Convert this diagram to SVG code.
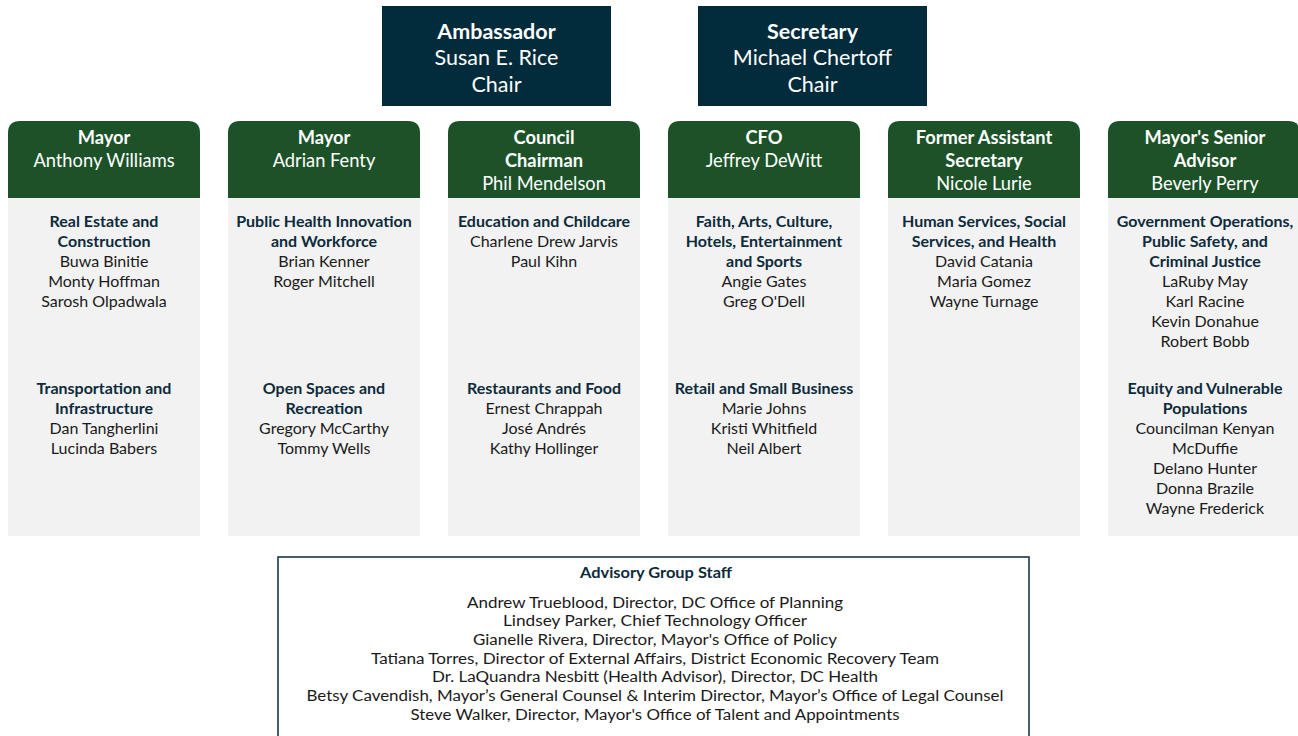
<svg xmlns="http://www.w3.org/2000/svg" width="1298" height="736" viewBox="0 0 1298 736">
<style>
.chairbox{fill:#022b3b}
.hdr{fill:#1d5229}
.body{fill:#f2f2f2}
text{font-family:Lato,"Noto Sans","Liberation Sans",sans-serif;text-anchor:middle}
.ct{fill:#ffffff;font-size:21.5px}
.ctb{fill:#ffffff;font-size:21.5px;font-weight:bold}
.h{fill:#ffffff;font-size:18.3px}
.hb{fill:#ffffff;font-size:18.3px;font-weight:bold}
.st{fill:#0d2b3b;font-size:16px;font-weight:bold}
.nm{fill:#1a1a1a;font-size:16px}
.staffbox{fill:#ffffff;stroke:#0d2b3b;stroke-width:1.5}
.sh{fill:#0d2b3b;font-size:15px;font-weight:bold}
.sl{fill:#1a1a1a;font-size:15.5px}
</style>
<rect width="1298" height="736" fill="#ffffff"/>
<g id="connectors"></g>
<g id="chair-rice">
<rect class="chairbox" x="382" y="6" width="229" height="100"/>
<text class="ctb" x="496.5" y="38.5">Ambassador</text>
<text class="ct" x="496.5" y="64.5">Susan E. Rice</text>
<text class="ct" x="496.5" y="91.5">Chair</text>
</g>
<g id="chair-chertoff">
<rect class="chairbox" x="698" y="6" width="229" height="100"/>
<text class="ctb" x="812.5" y="38.5">Secretary</text>
<text class="ct" x="812.5" y="64.5">Michael Chertoff</text>
<text class="ct" x="812.5" y="91.5">Chair</text>
</g>
<g id="col-williams">
<path class="hdr" d="M8,198 V133 Q8,121 20,121 H188 Q200,121 200,133 V198 Z"/>
<rect class="body" x="8" y="198" width="192" height="338"/>
<text class="hb" x="104" y="144">Mayor</text>
<text class="h" x="104" y="167">Anthony Williams</text>
<text class="st" x="104" y="226.5">Real Estate and</text>
<text class="st" x="104" y="246.5">Construction</text>
<text class="nm" x="104" y="266.5">Buwa Binitie</text>
<text class="nm" x="104" y="286.5">Monty Hoffman</text>
<text class="nm" x="104" y="306.5">Sarosh Olpadwala</text>
<text class="st" x="104" y="393.5">Transportation and</text>
<text class="st" x="104" y="413.5">Infrastructure</text>
<text class="nm" x="104" y="433.5">Dan Tangherlini</text>
<text class="nm" x="104" y="453.5">Lucinda Babers</text>
</g>
<g id="col-fenty">
<path class="hdr" d="M228,198 V133 Q228,121 240,121 H408 Q420,121 420,133 V198 Z"/>
<rect class="body" x="228" y="198" width="192" height="338"/>
<text class="hb" x="324" y="144">Mayor</text>
<text class="h" x="324" y="167">Adrian Fenty</text>
<text class="st" x="324" y="226.5">Public Health Innovation</text>
<text class="st" x="324" y="246.5">and Workforce</text>
<text class="nm" x="324" y="266.5">Brian Kenner</text>
<text class="nm" x="324" y="286.5">Roger Mitchell</text>
<text class="st" x="324" y="393.5">Open Spaces and</text>
<text class="st" x="324" y="413.5">Recreation</text>
<text class="nm" x="324" y="433.5">Gregory McCarthy</text>
<text class="nm" x="324" y="453.5">Tommy Wells</text>
</g>
<g id="col-mendelson">
<path class="hdr" d="M448,198 V133 Q448,121 460,121 H628 Q640,121 640,133 V198 Z"/>
<rect class="body" x="448" y="198" width="192" height="338"/>
<text class="hb" x="544" y="144">Council</text>
<text class="hb" x="544" y="167">Chairman</text>
<text class="h" x="544" y="190">Phil Mendelson</text>
<text class="st" x="544" y="226.5">Education and Childcare</text>
<text class="nm" x="544" y="246.5">Charlene Drew Jarvis</text>
<text class="nm" x="544" y="266.5">Paul Kihn</text>
<text class="st" x="544" y="393.5">Restaurants and Food</text>
<text class="nm" x="544" y="413.5">Ernest Chrappah</text>
<text class="nm" x="544" y="433.5">José Andrés</text>
<text class="nm" x="544" y="453.5">Kathy Hollinger</text>
</g>
<g id="col-dewitt">
<path class="hdr" d="M668,198 V133 Q668,121 680,121 H848 Q860,121 860,133 V198 Z"/>
<rect class="body" x="668" y="198" width="192" height="338"/>
<text class="hb" x="764" y="144">CFO</text>
<text class="h" x="764" y="167">Jeffrey DeWitt</text>
<text class="st" x="764" y="226.5">Faith, Arts, Culture,</text>
<text class="st" x="764" y="246.5">Hotels, Entertainment</text>
<text class="st" x="764" y="266.5">and Sports</text>
<text class="nm" x="764" y="286.5">Angie Gates</text>
<text class="nm" x="764" y="306.5">Greg O'Dell</text>
<text class="st" x="764" y="393.5">Retail and Small Business</text>
<text class="nm" x="764" y="413.5">Marie Johns</text>
<text class="nm" x="764" y="433.5">Kristi Whitfield</text>
<text class="nm" x="764" y="453.5">Neil Albert</text>
</g>
<g id="col-lurie">
<path class="hdr" d="M888,198 V133 Q888,121 900,121 H1068 Q1080,121 1080,133 V198 Z"/>
<rect class="body" x="888" y="198" width="192" height="338"/>
<text class="hb" x="984" y="144">Former Assistant</text>
<text class="hb" x="984" y="167">Secretary</text>
<text class="h" x="984" y="190">Nicole Lurie</text>
<text class="st" x="984" y="226.5">Human Services, Social</text>
<text class="st" x="984" y="246.5">Services, and Health</text>
<text class="nm" x="984" y="266.5">David Catania</text>
<text class="nm" x="984" y="286.5">Maria Gomez</text>
<text class="nm" x="984" y="306.5">Wayne Turnage</text>
</g>
<g id="col-perry">
<path class="hdr" d="M1108,198 V133 Q1108,121 1120,121 H1288 Q1300,121 1300,133 V198 Z"/>
<rect class="body" x="1108" y="198" width="192" height="338"/>
<text class="hb" x="1205" y="144">Mayor's Senior</text>
<text class="hb" x="1205" y="167">Advisor</text>
<text class="h" x="1205" y="190">Beverly Perry</text>
<text class="st" x="1205" y="226.5">Government Operations,</text>
<text class="st" x="1205" y="246.5">Public Safety, and</text>
<text class="st" x="1205" y="266.5">Criminal Justice</text>
<text class="nm" x="1205" y="286.5">LaRuby May</text>
<text class="nm" x="1205" y="306.5">Karl Racine</text>
<text class="nm" x="1205" y="326.5">Kevin Donahue</text>
<text class="nm" x="1205" y="346.5">Robert Bobb</text>
<text class="st" x="1205" y="393.5">Equity and Vulnerable</text>
<text class="st" x="1205" y="413.5">Populations</text>
<text class="nm" x="1205" y="433.5">Councilman Kenyan</text>
<text class="nm" x="1205" y="453.5">McDuffie</text>
<text class="nm" x="1205" y="473.5">Delano Hunter</text>
<text class="nm" x="1205" y="493.5">Donna Brazile</text>
<text class="nm" x="1205" y="513.5">Wayne Frederick</text>
</g>
<g id="staff">
<rect class="staffbox" x="278" y="557" width="751" height="190"/>
<text class="sh" x="656" y="578" textLength="152" lengthAdjust="spacingAndGlyphs">Advisory Group Staff</text>
<text class="sl" x="655" y="607.5" textLength="376" lengthAdjust="spacingAndGlyphs">Andrew Trueblood, Director, DC Office of Planning</text>
<text class="sl" x="655" y="626" textLength="304" lengthAdjust="spacingAndGlyphs">Lindsey Parker, Chief Technology Officer</text>
<text class="sl" x="655" y="644.5" textLength="364" lengthAdjust="spacingAndGlyphs">Gianelle Rivera, Director, Mayor's Office of Policy</text>
<text class="sl" x="655" y="663.5" textLength="568" lengthAdjust="spacingAndGlyphs">Tatiana Torres, Director of External Affairs, District Economic Recovery Team</text>
<text class="sl" x="655" y="682" textLength="446" lengthAdjust="spacingAndGlyphs">Dr. LaQuandra Nesbitt (Health Advisor), Director, DC Health</text>
<text class="sl" x="655" y="700.5" textLength="697" lengthAdjust="spacingAndGlyphs">Betsy Cavendish, Mayor’s General Counsel &amp; Interim Director, Mayor’s Office of Legal Counsel</text>
<text class="sl" x="655" y="719.5" textLength="489" lengthAdjust="spacingAndGlyphs">Steve Walker, Director, Mayor's Office of Talent and Appointments</text>
</g>
</svg>
